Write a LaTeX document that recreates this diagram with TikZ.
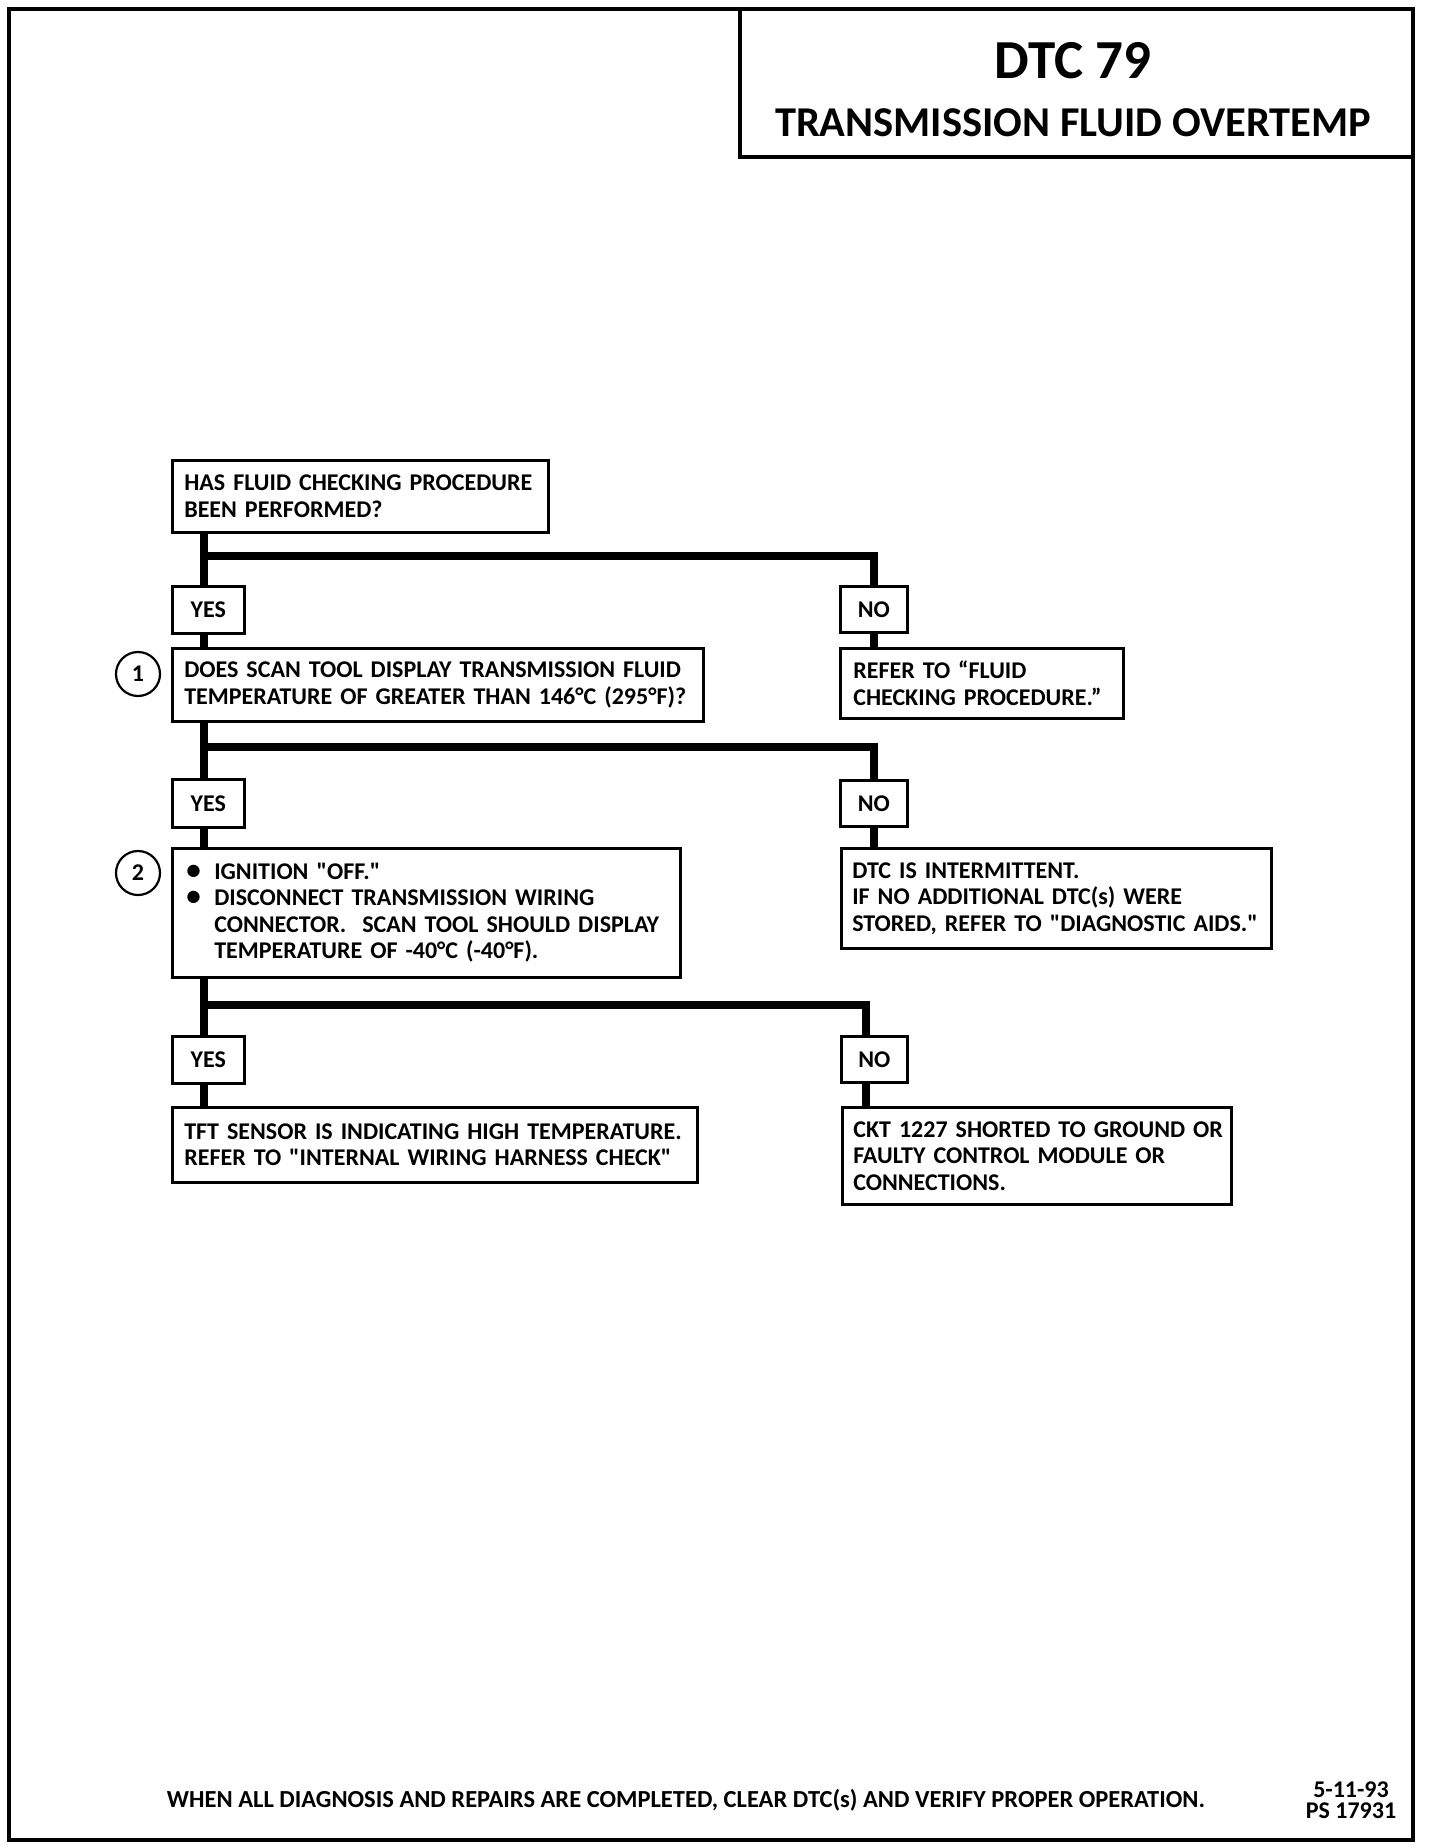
\documentclass[tikz,border=0pt]{standalone}
\usepackage{fontspec}
\setmainfont{Carlito}
\usepackage{tikz}
\usetikzlibrary{positioning}

\newcommand{\bodyfont}{\bfseries\fontsize{24}{26.5}\selectfont}
\newcommand{\blt}{\makebox[28pt][l]{{\fontsize{29}{26}\selectfont\textbullet}}}
\newcommand{\ind}{\hspace*{28pt}}
\newcommand{\dq}{\textquotedbl}

\tikzset{
  frame/.style={line width=4pt},
  box/.style={draw, line width=2.6pt, anchor=north west, inner xsep=12pt, inner ysep=0pt, align=left, font=\bodyfont},
  tag/.style={draw, line width=2.6pt, anchor=north west, inner sep=0pt, align=center, font=\bodyfont},
  link/.style={line width=8pt},
  num/.style={draw, circle, line width=2.2pt, minimum size=44pt, inner sep=0pt, font=\bodyfont}
}

\begin{document}
\begin{tikzpicture}[x=1pt, y=-1pt]
\fill[white] (0,0) rectangle (1440,1846);
\useasboundingbox (0,0) rectangle (1440,1846);

% page frame and title block
\draw[frame] (9,9) rectangle (1413,1840);
\draw[frame] (740,9) |- (1413,157);
\node[anchor=base, font=\bfseries\fontsize{55}{58}\selectfont] (dtc) at (1073,79) {DTC 79};
\node[anchor=base, font=\bfseries\fontsize{42.5}{45}\selectfont] (ttl) at (1073,137) {TRANSMISSION FLUID OVERTEMP};

% questions and answers
\node[box, text width=352pt, minimum height=72pt] (q1) at (171,459) {HAS FLUID CHECKING PROCEDURE\\BEEN PERFORMED?};
\node[tag, minimum width=72pt, minimum height=47pt] (yes1) at (171,585) {YES};
\node[tag, minimum width=67pt, minimum height=46pt] (no1) at (839,585) {NO};

\node[num] (n1) at (138,674) {1};
\node[box, text width=507pt, minimum height=73pt] (q2) at (171,647) {DOES SCAN TOOL DISPLAY TRANSMISSION FLUID\\TEMPERATURE OF GREATER THAN 146°C (295°F)?};
\node[box, inner xsep=13pt, text width=257pt, minimum height=70pt] (a1) at (839,647) {REFER TO “FLUID\\CHECKING PROCEDURE.”};
\node[tag, minimum width=72pt, minimum height=48pt] (yes2) at (171,778) {YES};
\node[tag, minimum width=67pt, minimum height=46pt] (no2) at (839,779) {NO};

\node[num] (n2) at (138,873) {2};
\node[box, inner xsep=14pt, text width=480pt, minimum height=129pt] (q3) at (171,847) {\blt IGNITION \dq OFF.\dq\\\blt DISCONNECT TRANSMISSION WIRING\\\ind CONNECTOR.\ \ SCAN TOOL SHOULD DISPLAY\\\ind TEMPERATURE OF -40°C (-40°F).};
\node[box, inner xsep=11pt, text width=408pt, minimum height=100pt] (a2) at (840,847) {DTC IS INTERMITTENT.\\IF NO ADDITIONAL DTC(s) WERE\\STORED, REFER TO \dq DIAGNOSTIC AIDS.\dq};
\node[tag, minimum width=72pt, minimum height=47pt] (yes3) at (171,1035) {YES};
\node[tag, minimum width=66pt, minimum height=46pt] (no3) at (840,1035) {NO};

\node[box, text width=501pt, minimum height=75pt] (a3) at (171,1106) {TFT SENSOR IS INDICATING HIGH TEMPERATURE.\\REFER TO \dq INTERNAL WIRING HARNESS CHECK\dq};
\node[box, inner xsep=11pt, text width=367pt, minimum height=97pt] (a4) at (841,1106) {\mbox{CKT 1227 SHORTED TO GROUND OR}\\FAULTY CONTROL MODULE OR\\CONNECTIONS.};

% branch points
\coordinate (b1) at (204,556);
\coordinate (b2) at (204,747);
\coordinate (b3) at (204,1005);

% flow lines
\draw[link] (q1.south -| b1) -- (yes1.north -| b1);
\draw[link] (b1) -| (no1.north);
\draw[link] (yes1.south -| b1) -- (q2.north -| b1);
\draw[link] (no1.south) -- (no1.south |- a1.north);

\draw[link] (q2.south -| b2) -- (yes2.north -| b2);
\draw[link] (b2) -| (no2.north);
\draw[link] (yes2.south -| b2) -- (q3.north -| b2);
\draw[link] (no2.south) -- (no2.south |- a2.north);

\draw[link] (q3.south -| b3) -- (yes3.north -| b3);
\draw[link] (b3) -| ([xshift=-8pt]no3.north);
\draw[link] (yes3.south -| b3) -- (a3.north -| b3);
\draw[link] ([xshift=-8pt]no3.south) -- ([xshift=-8pt]no3.south |- a4.north);

% footer
\node[anchor=base, font=\bfseries\fontsize{24.5}{26}\selectfont] (foot) at (686,1807) {WHEN ALL DIAGNOSIS AND REPAIRS ARE COMPLETED, CLEAR DTC(s) AND VERIFY PROPER OPERATION.};
\node[anchor=base, font=\bodyfont] (date) at (1351,1797) {5-11-93};
\node[anchor=base, font=\bodyfont] (ps) at (1351,1818) {PS 17931};
\end{tikzpicture}
\end{document}
